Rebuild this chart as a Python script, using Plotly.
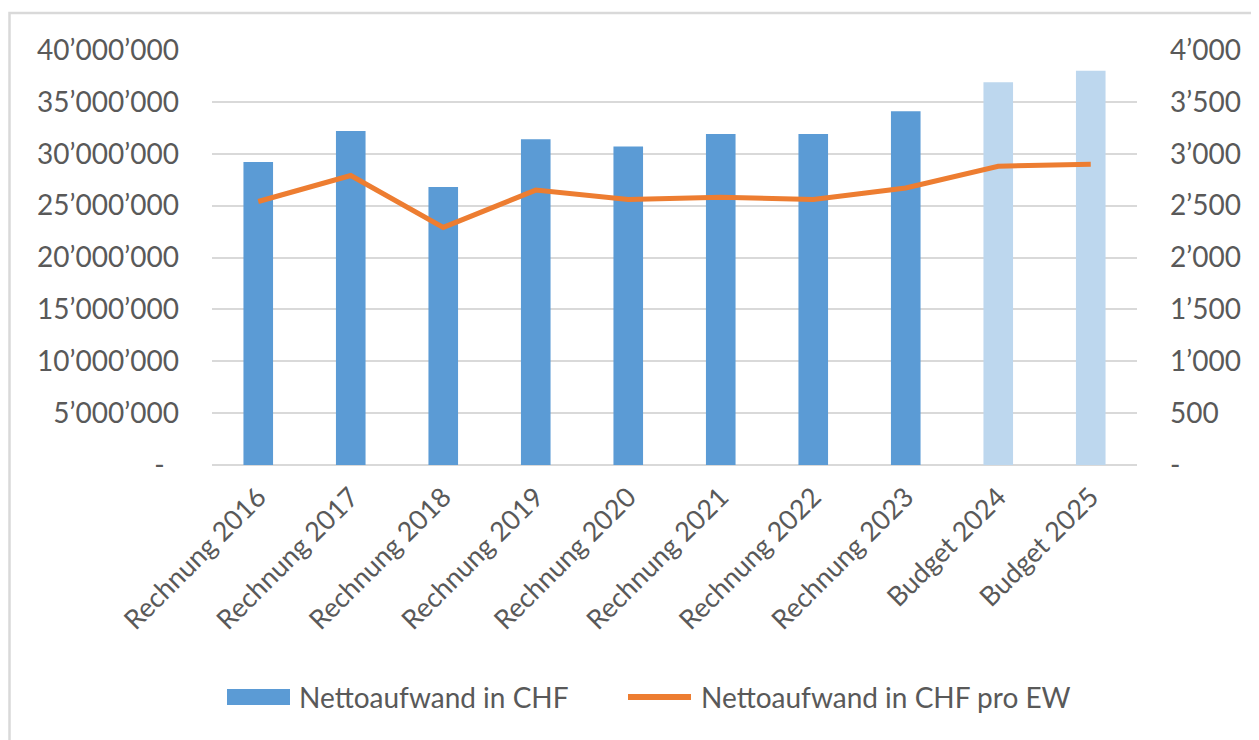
import plotly.graph_objects as go

categories = ["Rechnung 2016", "Rechnung 2017", "Rechnung 2018", "Rechnung 2019",
              "Rechnung 2020", "Rechnung 2021", "Rechnung 2022", "Rechnung 2023",
              "Budget 2024", "Budget 2025"]
netto_chf = [29200000, 32200000, 26800000, 31400000, 30700000,
             31900000, 31900000, 34100000, 36900000, 38000000]
netto_pro_ew = [2540, 2790, 2290, 2650, 2560, 2580, 2560, 2670, 2880, 2900]
bar_colors = ["#5b9bd5"] * 8 + ["#bdd7ee"] * 2
series_names = ["Nettoaufwand in CHF", "Nettoaufwand in CHF pro EW"]

left_tickvals = [0, 5e6, 10e6, 15e6, 20e6, 25e6, 30e6, 35e6, 40e6]
left_ticktext = ["-\u00a0\u00a0", "5’000’000", "10’000’000", "15’000’000", "20’000’000",
                 "25’000’000", "30’000’000", "35’000’000", "40’000’000"]
right_tickvals = [0, 500, 1000, 1500, 2000, 2500, 3000, 3500, 4000]
right_ticktext = ["-", "500", "1’000", "1’500", "2’000", "2’500", "3’000", "3’500", "4’000"]

# page has an 8px body margin, so the figure is sized to compensate
OFF = 8
W, H = 1259 - OFF, 740 - OFF
L, R, T, B = 212 - OFF, 122, 50 - OFF, 275
pw, ph = W - L - R, H - T - B


def px_x(sx):
    return (sx - OFF - L) / pw


def px_y(sy):
    return (H - B - (sy - OFF)) / ph


fig = go.Figure()
fig.add_trace(go.Bar(x=categories, y=netto_chf, name=series_names[0],
                     marker=dict(color=bar_colors, line=dict(width=0)),
                     width=0.32, yaxis="y", showlegend=False))
fig.add_trace(go.Scatter(x=categories, y=netto_pro_ew, name=series_names[1],
                         mode="lines", line=dict(color="#ed7d31", width=5),
                         yaxis="y2", showlegend=False))

font_family = "Lato, 'Liberation Sans', sans-serif"
fig.update_layout(
    width=W, height=H,
    margin=dict(l=L, r=R, t=T, b=B, pad=0, autoexpand=False),
    paper_bgcolor="white", plot_bgcolor="white",
    font=dict(family=font_family, color="#595959", size=27),
    showlegend=False,
    xaxis=dict(showgrid=False, tickangle=-45, tickfont=dict(size=27, color="#595959"),
               showline=False, ticks="", range=[-0.5, 9.5], ticklabelstandoff=10),
    yaxis=dict(range=[0, 40e6], tickvals=left_tickvals, ticktext=left_ticktext,
               showgrid=True, gridcolor="#d9d9d9", gridwidth=2, zeroline=True,
               zerolinecolor="#d9d9d9", zerolinewidth=2, showline=False, ticks="",
               ticklabelstandoff=32, tickfont=dict(size=28, color="#595959")),
    yaxis2=dict(range=[0, 4000], tickvals=right_tickvals, ticktext=right_ticktext,
                overlaying="y", side="right", showgrid=False, zeroline=False,
                showline=False, ticks="", ticklabelstandoff=32,
                tickfont=dict(size=28, color="#595959")),
)

# chart border (light gray frame as in the source image)
fig.add_shape(type="rect", xref="paper", yref="paper",
              x0=px_x(9.5), x1=px_x(1280), y0=px_y(800), y1=px_y(13),
              line=dict(color="#d9d9d9", width=2.5), fillcolor="rgba(0,0,0,0)", layer="below")

# legend drawn manually to match the wide swatches
ly = px_y(697)
fig.add_shape(type="rect", xref="paper", yref="paper",
              x0=px_x(227), x1=px_x(290), y0=px_y(705), y1=px_y(689),
              fillcolor="#5b9bd5", line=dict(width=0))
fig.add_shape(type="line", xref="paper", yref="paper",
              x0=px_x(628), x1=px_x(691), y0=ly, y1=ly,
              line=dict(color="#ed7d31", width=6))
fig.add_annotation(xref="paper", yref="paper", x=px_x(297), y=ly, text=series_names[0],
                   showarrow=False, xanchor="left", yanchor="middle",
                   font=dict(size=28, color="#595959"))
fig.add_annotation(xref="paper", yref="paper", x=px_x(699), y=ly, text=series_names[1],
                   showarrow=False, xanchor="left", yanchor="middle",
                   font=dict(size=28, color="#595959"))

fig.write_html("out.html")
